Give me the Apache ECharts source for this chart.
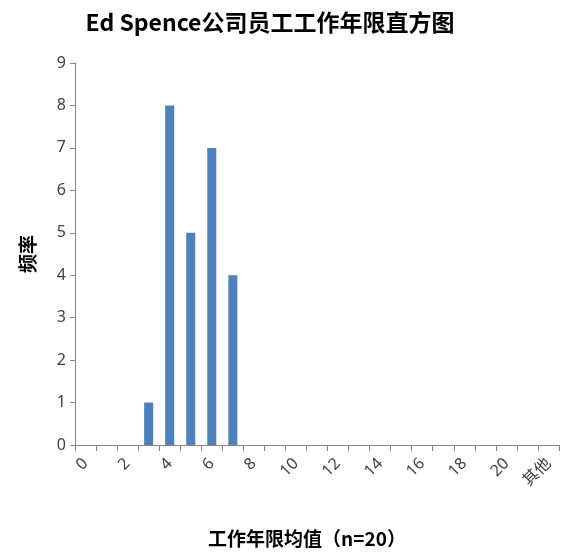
<!DOCTYPE html>
<html><head><meta charset="utf-8">
<script src="https://cdn.jsdelivr.net/npm/echarts@6/dist/echarts.min.js"></script>
<style>html,body{margin:0;padding:0;background:#fff}#c{width:561px;height:553px}</style>
</head><body><div id="c"></div>
<script>
const categories = ['0','1','2','3','4','5','6','7','8','9','10','11','12','13','14','15','16','17','18','19','20','21','其他'];
const frequencies = [0,0,0,1,8,5,7,4,0,0,0,0,0,0,0,0,0,0,0,0,0,0,0];
const yTicks = {min:0, max:9, interval:1};
const titleText = 'Ed Spence公司员工工作年限直方图';
const xName = '工作年限均值（n=20）';
const yName = '频率';

const chart = echarts.init(document.getElementById('c'));
const font = '"Noto Sans", "Noto Sans CJK SC", sans-serif';
chart.setOption({
  animation:false,
  title:{text:titleText,left:265,textAlign:'center',top:6,
    textStyle:{fontFamily:'"Noto Sans CJK SC", sans-serif',fontSize:23,fontWeight:'bold',color:'#000'}},
  grid:{left:75,right:2,top:63,bottom:106,containLabel:false},
  xAxis:{type:'category',data:categories,
    name:xName,nameLocation:'middle',nameGap:84,
    nameTextStyle:{fontFamily:'"Noto Sans CJK SC", sans-serif',fontSize:19,fontWeight:'bold',color:'#000',padding:[0,0,0,-20]},
    axisLine:{lineStyle:{color:'#868686',width:1}},
    axisTick:{show:true,interval:0,length:6,lineStyle:{color:'#868686'}},
    axisLabel:{interval:1,rotate:45,fontFamily:font,fontSize:16,color:'#404040',margin:16},
    splitLine:{show:false}},
  yAxis:{type:'value',min:yTicks.min,max:yTicks.max,interval:yTicks.interval,
    name:yName,nameLocation:'middle',nameGap:38,nameRotate:90,
    nameTextStyle:{fontFamily:'"Noto Sans CJK SC", sans-serif',fontSize:19,fontWeight:'bold',color:'#000'},
    axisLine:{show:true,lineStyle:{color:'#868686',width:1}},
    axisTick:{show:true,length:5,lineStyle:{color:'#868686'}},
    axisLabel:{fontFamily:font,fontSize:16,color:'#404040',margin:9},
    splitLine:{show:false}},
  series:[{type:'bar',data:frequencies,barWidth:'43%',itemStyle:{color:'#4F81BD'}}]
});
</script></body></html>
